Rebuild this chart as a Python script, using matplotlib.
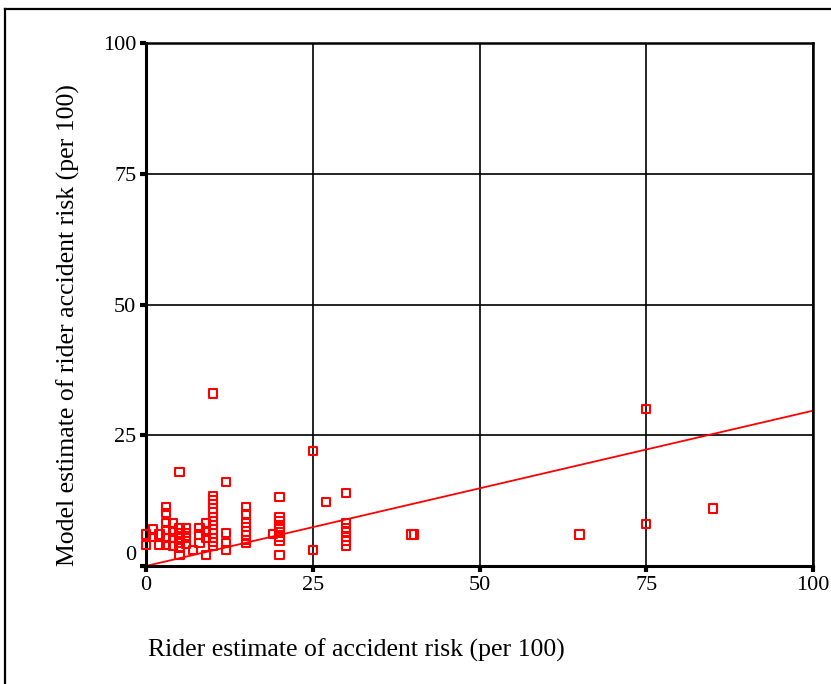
import matplotlib
matplotlib.use("Agg")
from matplotlib import pyplot as plt
from matplotlib.lines import Line2D
from matplotlib.transforms import ScaledTranslation
import numpy as np

plt.rcParams['font.family'] = ['Liberation Serif', 'DejaVu Serif']

# rider estimate (x) -> model estimates (y)
rider_groups = {
    0: [6, 4],
    1: [7, 5.5],
    2: [6, 4],
    3: [11.3, 10.1, 8.2, 6.9, 5.4, 4],
    4: [8.2, 6.5, 5.4, 3.8],
    5: [18, 7.3, 6.3, 5.4, 4.4, 3.4, 2.1],
    6: [7.3, 6.3, 5.4, 4.2],
    7: [3.1],
    8: [7.3, 6, 4.4],
    9: [8.2, 6.5, 5.4, 2.1],
    10: [33, 13.4, 12.6, 11.8, 11, 10.2, 9.4, 8.6, 7.8, 7, 6.2, 5.4, 4.6, 3.8],
    12: [16, 6.3, 4.4, 3.1],
    15: [11.3, 10, 8.2, 7.4, 6.6, 5.8, 5, 4.4],
    19: [6.1],
    20: [13.2, 9.4, 8.6, 7.5, 6.5, 5.5, 4.8, 2.1],
    25: [22, 3],
    27: [12.2],
    30: [14, 8.2, 7.3, 6.5, 5.6, 4.8, 3.9],
    40: [6, 6],
    65: [6],
    75: [30, 8],
    85: [11],
}
rider = np.array([x for x, ys in rider_groups.items() for _ in ys], dtype=float)
model = np.array([y for ys in rider_groups.values() for y in ys], dtype=float)
rider[-5] = 39.8  # the two points at 40 sit slightly apart
rider[-6] = 40.2

fit_intercept = 0.0
fit_slope = 0.297

ticks = [0, 25, 50, 75, 100]

fig = plt.figure(figsize=(8.31, 6.84), dpi=100)
ax = fig.add_axes([146/831, 1-566/684, (813-146)/831, (566-43)/684])

ax.set_xlim(0, 100)
ax.set_ylim(0, 100)
ax.set_xticks(ticks)
ax.set_yticks(ticks)
ax.grid(True, color='black', linewidth=1.2)
ax.set_axisbelow(True)

for s in ax.spines.values():
    s.set_linewidth(1.8)
ax.spines['left'].set_linewidth(2.2)
ax.spines['bottom'].set_linewidth(2.2)
ax.tick_params(direction='out', length=4, width=3, labelsize=16, pad=3)

ax.scatter(rider, model, marker='s', s=36, facecolors='none',
           edgecolors='red', linewidths=1.5, zorder=3, clip_on=False)

xs = np.array([0, 100])
ax.plot(xs, fit_intercept + fit_slope * xs, color='red', linewidth=1.3, zorder=2)

# the 0 label on the y axis sits a little above its tick
lbl0 = ax.get_yticklabels()[0]
lbl0.set_transform(lbl0.get_transform() + ScaledTranslation(0, 13/100, fig.dpi_scale_trans))

fig.text(148/831, 1-650/684, 'Rider estimate of accident risk (per 100)',
         ha='left', va='center', fontsize=18.5)
fig.text(68/831, 1-566/684, 'Model estimate of rider accident risk (per 100)',
         ha='center', va='bottom', rotation=90, fontsize=18.5)

# outer frame (cut at right and bottom)
fig.add_artist(Line2D([5/831, 1.0], [1-9/684, 1-9/684], color='black', linewidth=1.6))
fig.add_artist(Line2D([5/831, 5/831], [0.0, 1-9/684], color='black', linewidth=1.6))

fig.savefig('out.png', dpi=100)
